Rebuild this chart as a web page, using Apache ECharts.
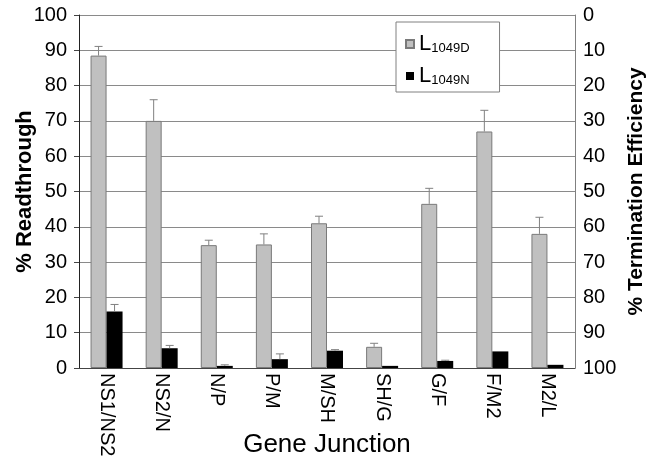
<!DOCTYPE html>
<html>
<head>
<meta charset="utf-8">
<script src="https://cdn.jsdelivr.net/npm/echarts@6/dist/echarts.min.js"></script>
<style>
  html, body { margin: 0; padding: 0; background: #fff; }
  #chart { width: 650px; height: 461px; }
</style>
</head>
<body>
<div id="chart"></div>
<script>
// gene junctions along the x axis
const junctions = ['NS1/NS2', 'NS2/N', 'N/P', 'P/M', 'M/SH', 'SH/G', 'G/F', 'F/M2', 'M2/L']
// % readthrough
const readL1049D = [88.5, 70, 34.8, 35, 41, 6, 46.5, 67, 38]
const errL1049D = [2.6, 6, 1.4, 3, 2, 1, 4.4, 6, 4.7]
const readL1049N = [16, 5.6, 0.6, 2.5, 4.9, 0.6, 2.0, 4.7, 0.9]
const errL1049N = [2, 0.8, 0.3, 1.5, 0.3, 0, 0.2, 0, 0]

const font = 'Liberation Sans, Arial, sans-serif'
const barW = 16

// draws the upper half of an error bar (stem + cap), shifted to its bar
function errorBar(offset) {
  return function (params, api) {
    const x = api.coord([api.value(0), 0])[0] + offset
    const y0 = api.coord([api.value(0), api.value(1)])[1]
    const y1 = api.coord([api.value(0), api.value(2)])[1]
    if (api.value(2) <= api.value(1)) return
    const st = { stroke: '#808080', lineWidth: 1 }
    return {
      type: 'group',
      children: [
        { type: 'line', shape: { x1: x, y1: y0, x2: x, y2: y1 }, style: st },
        { type: 'line', shape: { x1: x - 4, y1: y1, x2: x + 4, y2: y1 }, style: st },
      ],
    }
  }
}

const chart = echarts.init(document.getElementById('chart'))
chart.setOption({
  animation: false,
  textStyle: { fontFamily: font },
  grid: { left: 79, right: 75, top: 15, bottom: 93, containLabel: false, outerBoundsMode: 'none' },
  legend: {
    orient: 'vertical',
    left: 396,
    top: 22,
    itemWidth: 8,
    itemHeight: 8,
    itemGap: 5,
    icon: 'rect',
    backgroundColor: '#fff',
    borderColor: '#808080',
    borderWidth: 1,
    padding: [6, 30, 5, 9],
    data: ['L1049D', 'L1049N'],
    formatter: (name) => `{l|L}{s|${name.slice(1)}}`,
    textStyle: {
      rich: {
        l: { fontSize: 22, lineHeight: 22, verticalAlign: 'top', color: '#000', fontFamily: font },
        s: { fontSize: 13, lineHeight: 14, padding: [14, 0, 0, 0], verticalAlign: 'bottom', color: '#000', fontFamily: font },
      },
    },
  },
  xAxis: {
    type: 'category',
    data: junctions,
    name: 'Gene Junction',
    nameLocation: 'middle',
    nameGap: 64,
    nameMoveOverlap: false,
    nameTextStyle: { fontSize: 26, color: '#000', fontFamily: font },
    axisLine: { lineStyle: { color: '#444' } },
    axisTick: { show: false },
    axisLabel: { rotate: -90, fontSize: 20, color: '#000', margin: 5, padding: [16, 0, 0, 0], fontFamily: font },
  },
  yAxis: [
    {
      type: 'value',
      min: 0,
      max: 100,
      interval: 10,
      name: '% Readthrough',
      nameLocation: 'middle',
      nameGap: 43,
      nameRotate: 90,
      nameMoveOverlap: false,
      nameTextStyle: { fontSize: 22, fontWeight: 'bold', color: '#000', fontFamily: font },
      axisLine: { show: true, lineStyle: { color: '#222' } },
      axisTick: { show: true, inside: false, length: 5, lineStyle: { color: '#444' } },
      axisLabel: { fontSize: 20, color: '#000', margin: 12, fontFamily: font },
      splitLine: { lineStyle: { color: '#8a8a8a' } },
    },
    {
      type: 'value',
      position: 'right',
      inverse: true,
      min: 0,
      max: 100,
      interval: 10,
      name: '% Termination Efficiency',
      nameLocation: 'middle',
      nameGap: 51,
      nameRotate: 90,
      nameMoveOverlap: false,
      nameTextStyle: { fontSize: 21, fontWeight: 'bold', color: '#000', fontFamily: font },
      axisLine: { show: true, lineStyle: { color: '#808080' } },
      axisTick: { show: false },
      axisLabel: { fontSize: 20, color: '#000', margin: 8, fontFamily: font },
      splitLine: { show: false },
    },
  ],
  series: [
    {
      name: 'L1049D',
      type: 'bar',
      barWidth: barW,
      barGap: '0%',
      data: readL1049D,
      itemStyle: { color: '#c0c0c0', borderColor: '#7a7a7a', borderWidth: 1 },
    },
    {
      name: 'L1049N',
      type: 'bar',
      barWidth: barW,
      barGap: '0%',
      data: readL1049N,
      itemStyle: { color: '#000' },
    },
    {
      type: 'custom',
      renderItem: errorBar(-barW / 2),
      data: readL1049D.map((v, i) => [i, v, v + errL1049D[i]]),
      z: 3,
      silent: true,
    },
    {
      type: 'custom',
      renderItem: errorBar(barW / 2),
      data: readL1049N.map((v, i) => [i, v, v + errL1049N[i]]),
      z: 3,
      silent: true,
    },
  ],
})
</script>
</body>
</html>
